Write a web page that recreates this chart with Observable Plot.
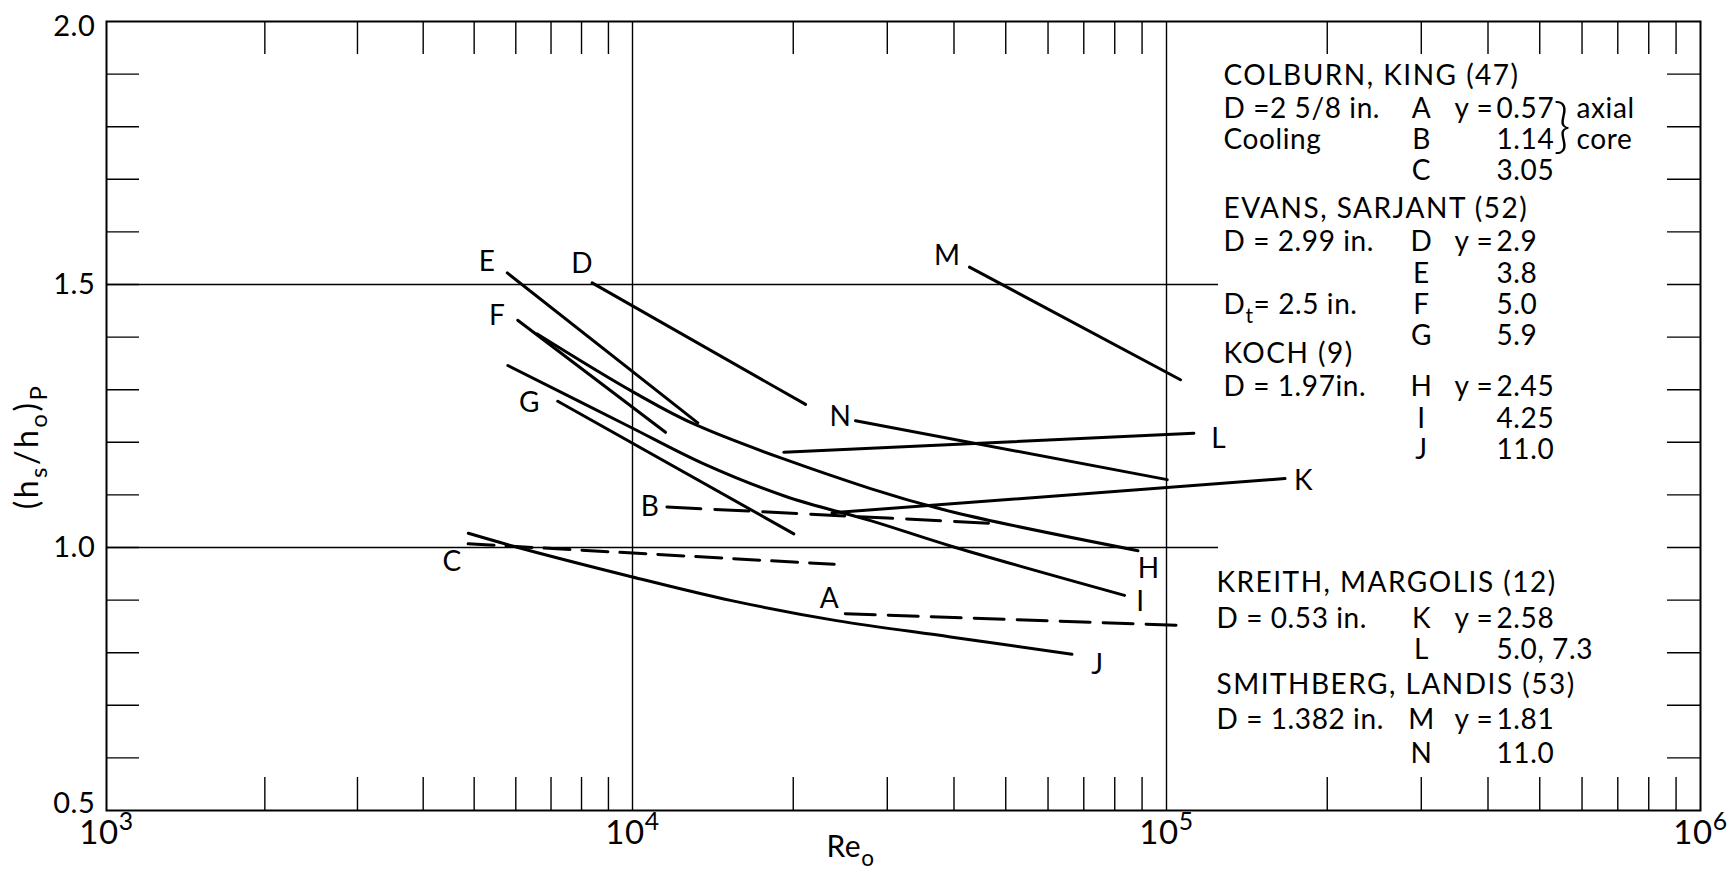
<!DOCTYPE html>
<html>
<head>
<meta charset="utf-8">
<script src="https://cdn.jsdelivr.net/npm/d3@7"></script>
<script src="https://cdn.jsdelivr.net/npm/@observablehq/plot@0.6"></script>
<style>
  html, body { margin: 0; padding: 0; background: #ffffff; }
  #chart svg { display: block; }
  #chart text { letter-spacing: 0.6px; }
</style>
</head>
<body>
<div id="chart"></div>
<script>
// ---------------- data ----------------
const decades = [1e3, 1e4, 1e5, 1e6];
const decadeLabels = ["10^3", "10^4", "10^5", "10^6"];
const minorMultipliers = [2, 3, 4, 5, 6, 7, 8, 9];
const gridRe = [1e4, 1e5];
const gridRatio = [1.0, 1.5];
const yTickValues = [0.6, 0.7, 0.8, 0.9, 1.0, 1.1, 1.2, 1.3, 1.4, 1.5, 1.6, 1.7, 1.8, 1.9];
const yLabelValues = [0.5, 1.0, 1.5, 2.0];
const yLabelTexts = ["0.5", "1.0", "1.5", "2.0"];

// curves: [Re_o, (h_s/h_o)_P]
const curveA = [[25030, 0.874], [105800, 0.852]];
const curveB = [[11600, 1.077], [49100, 1.045]];
const curveC = [[4870, 1.007], [23860, 0.968]];
const curveD = [[8380, 1.503], [21090, 1.272]];
const curveE = [[5780, 1.522], [13250, 1.237]];
const curveF = [[6050, 1.432], [11530, 1.219]];
const curveG = [[7210, 1.278], [20050, 1.026]];
const curveH = [[6590, 1.406], [10060, 1.295], [13220, 1.232], [27910, 1.112], [39970, 1.067], [88430, 0.994]];
const curveI = [[5795, 1.346], [9770, 1.232], [13600, 1.159], [19490, 1.096], [27910, 1.051], [39970, 1.001], [83440, 0.909]];
const curveJ = [[4874, 1.027], [6010, 1.001], [10000, 0.944], [15330, 0.899], [24100, 0.861], [39400, 0.830], [66530, 0.797]];
const curveK = [[23640, 1.066], [166700, 1.131]];
const curveL = [[19200, 1.181], [112500, 1.217]];
const curveM = [[42760, 1.533], [106200, 1.319]];
const curveN = [[26160, 1.241], [100300, 1.129]];

const curveLetters = ["A", "B", "C", "D", "E", "F", "G", "H", "I", "J", "K", "L", "M", "N"];
const curveLabelRe = [23380, 10790, 4540, 8020, 5290, 5530, 6370, 92660, 89400, 74270, 180600, 125300, 38840, 24520];
const curveLabelRatio = [0.902, 1.077, 0.973, 1.538, 1.542, 1.441, 1.274, 0.960, 0.896, 0.776, 1.127, 1.207, 1.555, 1.248];

// legend text
const legendHeads = ["COLBURN, KING (47)", "EVANS, SARJANT (52)", "KOCH (9)", "KREITH, MARGOLIS (12)", "SMITHBERG, LANDIS (53)"];
const legendSpecs = ["D =2 5/8 in.", "Cooling", "D = 2.99 in.", "D_t= 2.5 in.", "D = 1.97in.", "D = 0.53 in.", "D = 1.382 in."];
const legendKeys = ["A", "B", "C", "D", "E", "F", "G", "H", "I", "J", "K", "L", "M", "N"];
const legendYEq = ["y =", "y =", "y =", "y =", "y ="];
const legendValues = ["0.57", "1.14", "3.05", "2.9", "3.8", "5.0", "5.9", "2.45", "4.25", "11.0", "2.58", "5.0, 7.3", "1.81", "11.0"];
const legendNote = ["axial", "core"];
const legendBrace = ["}"];
const xTitle = ["Re_o"];
const yTitle = ["(h_s/h_o)_P"];

// ---------------- layout (pixels) ----------------
const W = 1728, H = 882;
const xRange = [106, 632, 1166, 1700];
const yRange = [810, 21];
const headX = [1223, 1223, 1223, 1216, 1216];
const headY = [76, 209, 354, 583, 685];
const specX = [1223, 1223, 1223, 1223, 1223, 1216, 1216];
const specY = [109, 140, 242, 305, 387, 619, 720];
const keyX = 1421;
const keyY = [109, 140, 171, 242, 274, 305, 336, 387, 419, 450, 619, 650, 720, 754];
const yEqX = 1454;
const yEqY = [109, 242, 387, 619, 720];
const valueX = 1496;
const noteX = 1576;
const noteY = [109, 140];
const braceX = 1562, braceY = 126;

const xPix = d3.scaleLog().domain(decades).range(xRange);
const yPix = d3.scaleLinear().domain([0.5, 2.0]).range(yRange);
const atX = (px) => xPix.invert(px);
const atY = (py) => yPix.invert(py);

const minorRe = decades.slice(0, 3).flatMap((d) => minorMultipliers.map((m) => m * d));
const frameW = xRange[3] - xRange[0];
const frameH = yRange[0] - yRange[1];
const tickLen = 33;
const LEG = 28;

const lineOpts = (extra = {}) => ({x: (d) => d[0], y: (d) => d[1], stroke: "black", strokeWidth: 3, ...extra});
const yLab = (idx, dy) => Plot.text(idx.map((i) => yLabelValues[i]), {
  y: (d) => d, text: (d, i) => yLabelTexts[idx[i]], frameAnchor: "left", textAnchor: "end", dx: -11, dy, fontSize: 29, fill: "black"
});

const chart = Plot.plot({
  width: W,
  height: H,
  marginLeft: xRange[0],
  marginRight: W - xRange[3],
  marginTop: yRange[1],
  marginBottom: H - yRange[0],
  x: {type: "log", domain: decades, range: xRange, axis: null},
  y: {type: "linear", domain: [0.5, 2.0], range: yRange, axis: null},
  style: {fontFamily: "Lato, 'DejaVu Sans', sans-serif", background: "white", color: "black", overflow: "visible"},
  marks: [
    // grid
    Plot.ruleX(gridRe, {stroke: "black", strokeWidth: 1.4}),
    Plot.ruleY(gridRatio, {stroke: "black", strokeWidth: 1.4, insetRight: xRange[3] - 1218}),
    // minor ticks, inward on all sides
    Plot.tickX(minorRe, {x: (d) => d, stroke: "black", strokeWidth: 1.4, insetTop: frameH - tickLen}),
    Plot.tickX(minorRe, {x: (d) => d, stroke: "black", strokeWidth: 1.4, insetBottom: frameH - tickLen}),
    Plot.tickY(yTickValues, {y: (d) => d, stroke: "black", strokeWidth: 1.4, insetRight: frameW - tickLen}),
    Plot.tickY(yTickValues, {y: (d) => d, stroke: "black", strokeWidth: 1.4, insetLeft: frameW - tickLen}),
    Plot.frame({stroke: "black", strokeWidth: 2}),
    // curves
    Plot.line(curveA, lineOpts({strokeDasharray: "30,13"})),
    Plot.line(curveB, lineOpts({strokeDasharray: "34,14"})),
    Plot.line(curveC, lineOpts({strokeDasharray: "26,12"})),
    Plot.line(curveD, lineOpts()),
    Plot.line(curveE, lineOpts()),
    Plot.line(curveF, lineOpts()),
    Plot.line(curveG, lineOpts()),
    Plot.line(curveH, lineOpts({curve: "catmull-rom"})),
    Plot.line(curveI, lineOpts({curve: "catmull-rom"})),
    Plot.line(curveJ, lineOpts({curve: "catmull-rom"})),
    Plot.line(curveK, lineOpts()),
    Plot.line(curveL, lineOpts()),
    Plot.line(curveM, lineOpts()),
    Plot.line(curveN, lineOpts()),
    // curve letters
    Plot.text(curveLetters, {x: (d, i) => curveLabelRe[i], y: (d, i) => curveLabelRatio[i], text: (d) => d, fontSize: 28, fill: "black"}),
    // y tick labels (ends nudged inside like the original)
    yLab([0], -7),
    yLab([1, 2], 0),
    yLab([3], 5),
    // x tick labels
    Plot.text(decades, {x: (d) => d, text: (d, i) => decadeLabels[i], frameAnchor: "bottom", textAnchor: "middle", dy: 33, fontSize: 33, fill: "black"}),
    // axis titles
    Plot.text(xTitle, {x: atX(850), frameAnchor: "bottom", textAnchor: "middle", dy: 46, text: (d) => d, fontSize: 30, fill: "black"}),
    Plot.text(yTitle, {y: atY(446), frameAnchor: "left", textAnchor: "middle", dx: 27 - xRange[0], rotate: -90, text: (d) => d, fontSize: 32, fill: "black"}),
    // legend
    Plot.text(legendHeads, {x: (d, i) => atX(headX[i]), y: (d, i) => atY(headY[i]), text: (d) => d, textAnchor: "start", fontSize: LEG, fill: "black"}),
    Plot.text(legendSpecs, {x: (d, i) => atX(specX[i]), y: (d, i) => atY(specY[i]), text: (d) => d, textAnchor: "start", fontSize: LEG, fill: "black"}),
    Plot.text(legendKeys, {x: atX(keyX), y: (d, i) => atY(keyY[i]), text: (d) => d, textAnchor: "middle", fontSize: LEG, fill: "black"}),
    Plot.text(legendYEq, {x: atX(yEqX), y: (d, i) => atY(yEqY[i]), text: (d) => d, textAnchor: "start", fontSize: LEG, fill: "black"}),
    Plot.text(legendValues, {x: atX(valueX), y: (d, i) => atY(keyY[i]), text: (d) => d, textAnchor: "start", fontSize: LEG, fill: "black"}),
    Plot.text(legendNote, {x: atX(noteX), y: (d, i) => atY(noteY[i]), text: (d) => d, textAnchor: "start", fontSize: LEG, fill: "black"}),
    Plot.text(legendBrace, {x: atX(braceX), y: atY(braceY), text: (d) => d, textAnchor: "middle", fontSize: 60, fontWeight: 300, fill: "black"})
  ]
});

document.getElementById("chart").appendChild(chart);

// wider lettering for the reference headings and the y title, as in the original
chart.querySelectorAll("text").forEach((t) => {
  const s = t.textContent;
  if (legendHeads.includes(s)) t.style.letterSpacing = "1.5px";
  if (yTitle.includes(s)) t.style.letterSpacing = "2.5px";
});

// sub/superscript formatting: "_x" / "^x" become tspans
function richText(svg) {
  const NS = "http://www.w3.org/2000/svg";
  svg.querySelectorAll("text").forEach((t) => {
    const s = t.textContent;
    if (!/[_^]/.test(s)) return;
    const size = parseFloat(getComputedStyle(t).fontSize) || 16;
    const parts = [];
    let buf = "", i = 0;
    while (i < s.length) {
      const c = s[i];
      if ((c === "_" || c === "^") && i + 1 < s.length) {
        if (buf) parts.push({t: buf, k: 0});
        buf = "";
        let g;
        if (s[i + 1] === "{") { const j = s.indexOf("}", i + 2); g = s.slice(i + 2, j); i = j + 1; }
        else { g = s[i + 1]; i += 2; }
        parts.push({t: g, k: c === "_" ? 1 : -1});
      } else { buf += c; i++; }
    }
    if (buf) parts.push({t: buf, k: 0});
    while (t.firstChild) t.removeChild(t.firstChild);
    let cur = 0;
    for (const p of parts) {
      const ts = document.createElementNS(NS, "tspan");
      const target = p.k === 1 ? 0.3 * size : p.k === -1 ? -0.42 * size : 0;
      ts.setAttribute("dy", String(target - cur));
      cur = target;
      if (p.k) ts.setAttribute("font-size", String(0.75 * size));
      ts.textContent = p.t;
      t.appendChild(ts);
    }
  });
}
richText(chart);
</script>
</body>
</html>
